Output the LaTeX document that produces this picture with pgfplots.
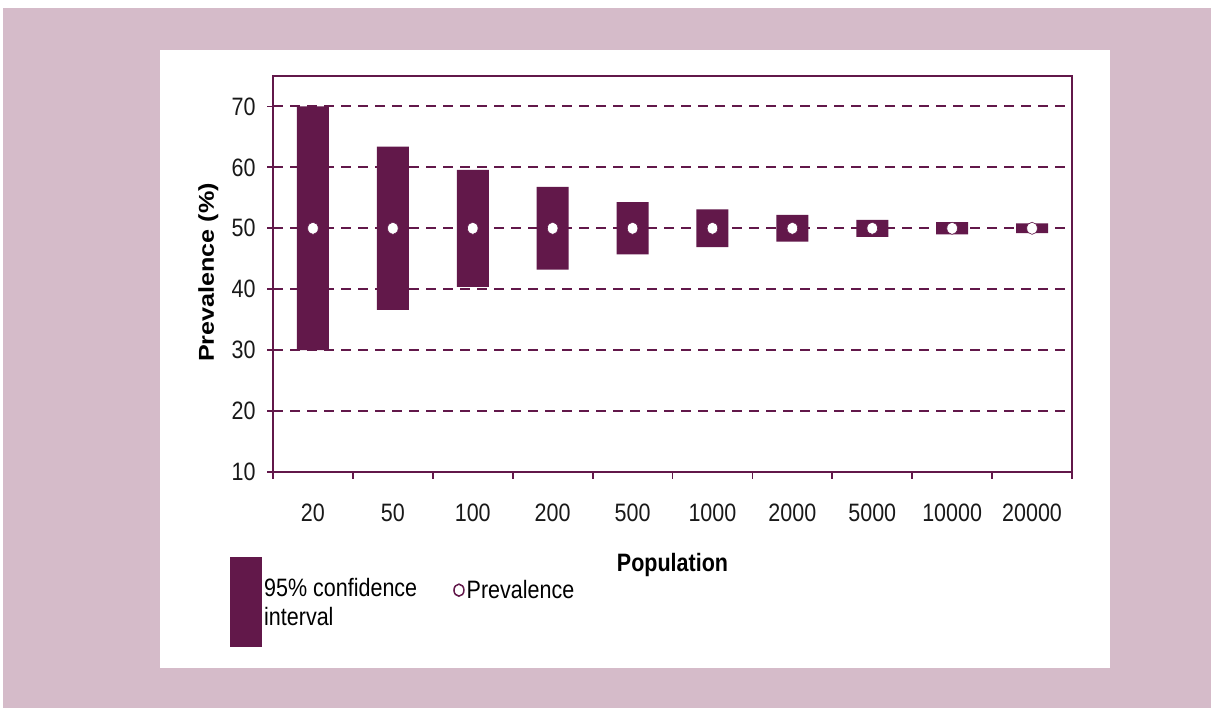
\documentclass[border=0pt]{standalone}
\usepackage{pgfplots}
\pgfplotsset{compat=1.18}
\usepackage{pgfplotstable}
\usepackage{graphicx}
\usepackage{fontspec}
\setmainfont{Liberation Sans}
\definecolor{cP}{HTML}{62184A}
\definecolor{bgPink}{HTML}{D5BBC9}
% the reference is stretched vertically a little
\newcommand\vs[1]{\scalebox{1}[1.17]{#1}}

% population index, lower / upper bound of the 95% CI, prevalence
\pgfplotstableread{
x  lo    hi    p
1  30.0  70.0  50
2  36.6  63.4  50
3  40.4  59.6  50
4  43.2  56.8  50
5  45.7  54.3  50
6  46.9  53.1  50
7  47.8  52.2  50
8  48.6  51.4  50
9  49.0  51.0  50
10 49.2  50.8  50
}\cidata

\begin{document}
\begin{tikzpicture}[x=1pt,y=1pt]
  \useasboundingbox (0,0) rectangle (1211,708);
  \fill[white] (0,0) rectangle (1211,708);
  \fill[bgPink] (3,0) rectangle (1211,700);
  \fill[white] (160,40) rectangle (1110,658);
  \begin{axis}[
      at={(273pt,236pt)}, anchor=south west,
      width=799pt, height=396pt, scale only axis,
      xmin=0.5, xmax=10.5, ymin=10, ymax=75,
      axis line style={cP, line width=1.8pt},
      tick align=outside,
      xtick pos=bottom, ytick pos=left,
      xtick={1,...,10},
      xticklabels={\vs{20},\vs{50},\vs{100},\vs{200},\vs{500},\vs{1000},\vs{2000},\vs{5000},\vs{10000},\vs{20000}},
      minor xtick={0.5,1.5,...,10.5},
      major x tick style={draw=none},
      minor x tick style={cP, line width=1.8pt},
      minor tick length=7pt,
      ytick={10,20,...,70},
      yticklabels={\vs{10},\vs{20},\vs{30},\vs{40},\vs{50},\vs{60},\vs{70}},
      major tick length=6pt,
      y tick style={cP, line width=1.8pt},
      ymajorgrids,
      grid style={cP, line width=2pt, dash pattern=on 10pt off 7pt},
      ticklabel style={font=\fontsize{21.5}{25}\selectfont, text=black!90},
      xticklabel style={yshift=-22pt},
      yticklabel style={xshift=-8pt},
      xlabel={\vs{\bfseries Population}},
      ylabel={\scalebox{1.17}[1]{\bfseries Prevalence (\%)}},
      label style={font=\fontsize{21.5}{25}\selectfont, text=black},
      xlabel style={at={(axis description cs:0.5,-0.235)}, anchor=center},
      ylabel style={at={(axis description cs:-0.081,0.504)}, anchor=center},
      legend columns=2,
      legend cell align=left,
      legend style={at={(axis description cs:-0.0538,-0.2146)}, anchor=north west,
        draw=none, fill=none, inner sep=0pt,
        font=\fontsize{21.5}{29}\selectfont,
        cells={align=left},
        nodes={inner sep=2pt},
        /tikz/every even column/.append style={column sep=34pt}},
    ]
    % invisible base of the floating bars
    \addplot[ybar stacked, bar width=32pt, draw=none, fill=none, forget plot]
      table[x=x, y=lo]{\cidata};
    % 95% confidence interval
    \addplot[ybar stacked, bar width=32pt, draw=none, fill=cP,
      legend image code/.code={\fill[cP] (0pt,-45pt) rectangle (32pt,45pt);}]
      table[x=x, y expr=\thisrow{hi}-\thisrow{lo}]{\cidata};
    \addlegendentry{\vs{95\% confidence}\\\vs{interval}}
    % prevalence
    \addplot[only marks, mark=*, mark size=5.3pt,
      mark options={fill=white, draw=cP, line width=0.6pt, yscale=1.15},
      legend image code/.code={\draw[cP, fill=white, line width=1.5pt] (5.5pt,12pt) ellipse (5pt and 6pt);}]
      table[x=x, y=p]{\cidata};
    \addlegendentry[yshift=12pt]{\vs{Prevalence}}
  \end{axis}
\end{tikzpicture}
\end{document}
